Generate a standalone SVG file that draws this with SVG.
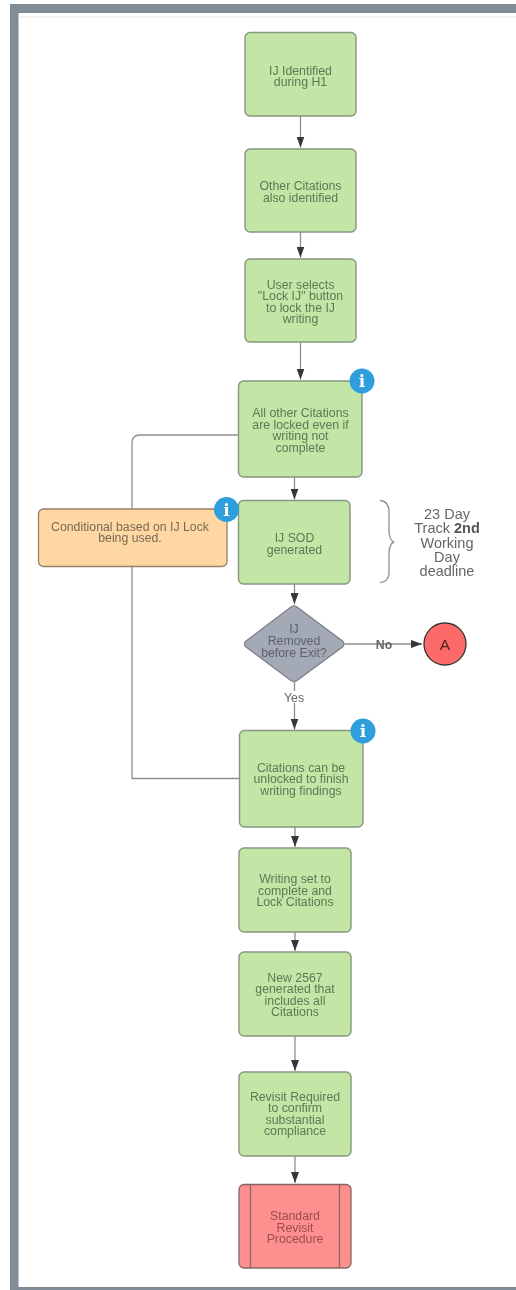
<svg xmlns="http://www.w3.org/2000/svg" width="516" height="1290" viewBox="0 0 516 1290">
<style>
text{font-family:"Liberation Sans",Arial,sans-serif;font-size:12.300px;text-anchor:middle}
.g rect{fill:#c3e6a6;stroke:#87977f;stroke-width:1.400}
.g text{fill:#5c7a55}
.c path{fill:none;stroke:#8f8f8f;stroke-width:1.300}
.i circle{fill:#2d9fdc}
.i text{fill:#fff;font-family:"DejaVu Serif",serif;font-weight:bold;font-size:17px}
.l{fill:#666}
.d{font-size:14.500px}
</style>
<defs>
<marker id="a" markerUnits="userSpaceOnUse" markerWidth="12" markerHeight="8" refX="11" refY="4" orient="auto"><path d="M0 0L11 4L0 8Z" fill="#33383d"/></marker>
<filter id="b" x="-2%" y="-2%" width="104%" height="104%"><feGaussianBlur stdDeviation="0.35"/></filter>
</defs>
<rect width="516" height="1290" fill="#fff"/>
<g filter="url(#b)">
<g id="frame">
<path d="M10 4H516V13H18.500V1287H516V1290H10Z" fill="#818d96"/>
<path d="M18.500 17H516" stroke="#e6e6e6" stroke-width="1"/>
</g>
<g id="connectors" class="c">
<path d="M300.500 116V147.500" marker-end="url(#a)"/>
<path d="M300.500 232V257.500" marker-end="url(#a)"/>
<path d="M300.500 342V379.500" marker-end="url(#a)"/>
<path d="M294.500 477V499.500" marker-end="url(#a)"/>
<path d="M294.500 584V604" marker-end="url(#a)"/>
<path d="M344.500 644H422" marker-end="url(#a)"/>
<path d="M294.500 682V729.500" marker-end="url(#a)"/>
<path d="M295 827V847" marker-end="url(#a)"/>
<path d="M295 932V951" marker-end="url(#a)"/>
<path d="M295 1036V1071" marker-end="url(#a)"/>
<path d="M295 1156V1183" marker-end="url(#a)"/>
<path d="M238.500 435H140Q132 435 132 443V509M132 566V778.500H239.500"/>
<path d="M380 500.500Q388 501 389 510V532Q390 541 394 542Q390 543 389 552V574Q388 582 380 582.500"/>
</g>
<g id="n1" class="g"><rect x="245" y="32.500" width="111" height="83.500" rx="5"/><text x="300.500" y="74.500">IJ Identified</text><text x="300.500" y="86">during H1</text></g>
<g id="n2" class="g"><rect x="245" y="149" width="111" height="83" rx="5"/><text x="300.500" y="190">Other Citations</text><text x="300.500" y="201.500">also identified</text></g>
<g id="n3" class="g"><rect x="245" y="259" width="111" height="83" rx="5"/><text x="300.500" y="288.500">User selects</text><text x="300.500" y="300">"Lock IJ" button</text><text x="300.500" y="311.500">to lock the IJ</text><text x="300.500" y="323">writing</text></g>
<g id="n4" class="g"><rect x="238.500" y="381" width="123.500" height="96" rx="5"/><text x="300.500" y="417">All other Citations</text><text x="300.500" y="428.500">are locked even if</text><text x="300.500" y="440">writing not</text><text x="300.500" y="451.500">complete</text></g>
<g id="n5" class="g"><rect x="238.500" y="500.500" width="111.500" height="83.500" rx="5"/><text x="294.500" y="542">IJ SOD</text><text x="294.500" y="553.500">generated</text></g>
<g id="note"><rect x="38.500" y="509" width="188.500" height="57.500" rx="5" fill="#fed7a3" stroke="#968068" stroke-width="1.300"/><text x="130" y="530.500" fill="#7a6a55">Conditional based on IJ Lock</text><text x="130" y="542" fill="#7a6a55">being used.</text></g>
<g id="deadline"><text class="l d" x="447" y="518.500">23 Day</text><text class="l d" x="447" y="533">Track <tspan font-weight="bold" fill="#555">2nd</tspan></text><text class="l d" x="447" y="547.500">Working</text><text class="l d" x="447" y="561.500">Day</text><text class="l d" x="447" y="575.500">deadline</text></g>
<g id="decision"><path d="M294 605.500Q295 605.500 297 607L342.500 641Q345.500 644 342.500 647L297 680.500Q294 682.500 291 680.500L246 647Q243 644 246 641L291 607Q293 605.500 294 605.500Z" fill="#a3a9b5" stroke="#7a7f88" stroke-width="1.200"/><text x="294" y="633" fill="#5e626a">IJ</text><text x="294" y="645" fill="#5e626a">Removed</text><text x="294" y="656.500" fill="#5e626a">before Exit?</text></g>
<g id="lbl-no"><text class="l" x="384" y="648.500" font-weight="bold">No</text></g>
<g id="lbl-yes"><rect x="283" y="691" width="22" height="12" fill="#fff"/><text class="l" x="294" y="702">Yes</text></g>
<g id="circleA"><circle cx="445" cy="644" r="21" fill="#fc6b6b" stroke="#333" stroke-width="1.300"/><text x="445" y="649.500" fill="#4f2222" style="font-size:15.500px">A</text></g>
<g id="n6" class="g"><rect x="239.500" y="730.500" width="123.500" height="96.500" rx="5"/><text x="301" y="771.500">Citations can be</text><text x="301" y="783">unlocked to finish</text><text x="301" y="794.500">writing findings</text></g>
<g id="n7" class="g"><rect x="239" y="848" width="112" height="84" rx="5"/><text x="295" y="883">Writing set to</text><text x="295" y="894.500">complete and</text><text x="295" y="906">Lock Citations</text></g>
<g id="n8" class="g"><rect x="239" y="952" width="112" height="84" rx="5"/><text x="295" y="981.500">New 2567</text><text x="295" y="993">generated that</text><text x="295" y="1004.500">includes all</text><text x="295" y="1016">Citations</text></g>
<g id="n9" class="g"><rect x="239" y="1072" width="112" height="84" rx="5"/><text x="295" y="1100.500">Revisit Required</text><text x="295" y="1112">to confirm</text><text x="295" y="1123.500">substantial</text><text x="295" y="1135">compliance</text></g>
<g id="n10"><rect x="239" y="1184.500" width="112" height="83.500" rx="5" fill="#fe8f8f" stroke="#8a6464" stroke-width="1.300"/><path d="M250.500 1184.500V1268M339.500 1184.500V1268" stroke="#8a6464" stroke-width="1.200" fill="none"/><text x="295" y="1220" fill="#9c4d4d">Standard</text><text x="295" y="1231.500" fill="#9c4d4d">Revisit</text><text x="295" y="1243" fill="#9c4d4d">Procedure</text></g>
<g id="info1" class="i"><circle cx="362" cy="381" r="12.500"/><text x="362" y="387">i</text></g>
<g id="info2" class="i"><circle cx="226.500" cy="509.500" r="12.500"/><text x="226.500" y="515.500">i</text></g>
<g id="info3" class="i"><circle cx="363" cy="731" r="12.500"/><text x="363" y="737">i</text></g>
</g>
</svg>
